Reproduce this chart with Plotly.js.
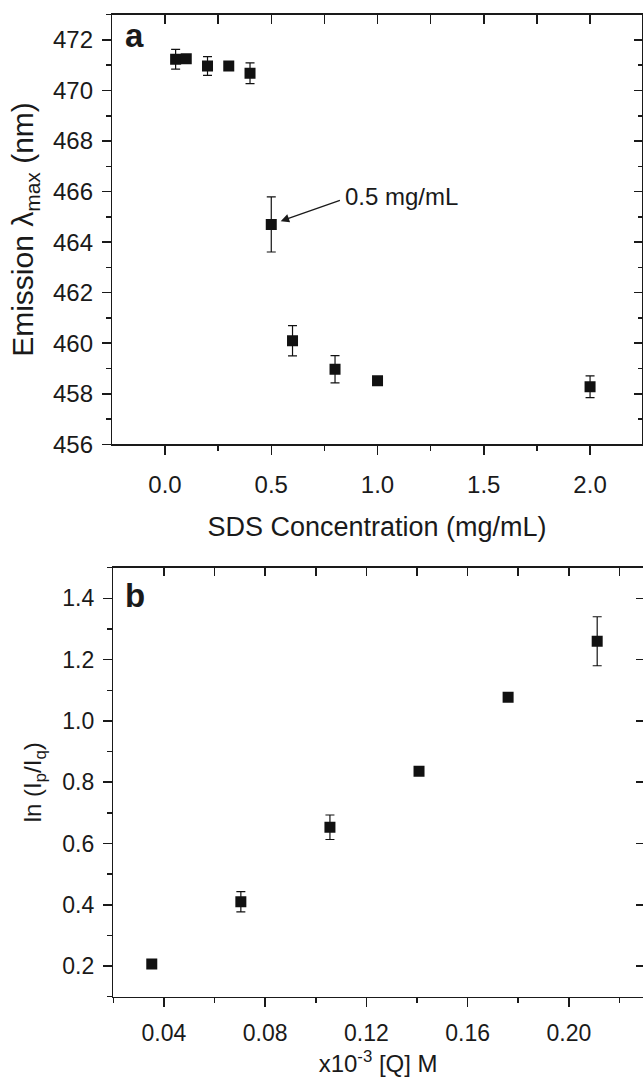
<!DOCTYPE html>
<html>
<head>
<meta charset="utf-8">
<script src="https://cdn.plot.ly/plotly-3.0.1.min.js"></script>
<style>html,body{margin:0;padding:0;background:#fff;}#chart{width:643px;height:1077px;}</style>
</head>
<body>
<div id="chart"></div>
<script>
// Panel a: emission maximum vs SDS concentration
const sdsConc = [0.05, 0.1, 0.2, 0.3, 0.4, 0.5, 0.6, 0.8, 1.0, 2.0];
const emissionMax = [471.24, 471.26, 470.97, 470.97, 470.68, 464.7, 460.1, 458.97, 458.51, 458.28];
const emissionErr = [0.39, 0, 0.37, 0, 0.41, 1.09, 0.6, 0.54, 0, 0.43];

// Panel b: ln(Ip/Iq) vs quencher concentration
const quencherConc = [0.0352, 0.0704, 0.1056, 0.1408, 0.176, 0.2112];
const lnRatio = [0.207, 0.41, 0.653, 0.836, 1.077, 1.26];
const lnRatioErr = [0, 0.033, 0.04, 0, 0, 0.08];

const W = 643, H = 1077;
const FONT = 'Liberation Sans, Arial, sans-serif';
const INK = '#1a1a1a';
const tickFontA = {family: FONT, size: 24, color: INK};
const tickFontB = {family: FONT, size: 23, color: INK};

const marker = {symbol: 'square', size: 11, color: '#111'};
const errStyle = (arr) => ({type: 'data', array: arr, visible: true, color: '#111', thickness: 1.2, width: 4.5});

const traces = [
  {x: sdsConc, y: emissionMax, error_y: errStyle(emissionErr), type: 'scatter', mode: 'markers',
   marker: marker, xaxis: 'x', yaxis: 'y', showlegend: false, hoverinfo: 'x+y'},
  {x: quencherConc, y: lnRatio, error_y: errStyle(lnRatioErr), type: 'scatter', mode: 'markers',
   marker: marker, xaxis: 'x2', yaxis: 'y2', showlegend: false, hoverinfo: 'x+y'},
  // invisible carriers so the mirrored (top/right) axes are drawn
  {x: sdsConc, y: emissionMax, type: 'scatter', mode: 'markers', marker: {opacity: 0, size: 1},
   xaxis: 'x3', yaxis: 'y3', showlegend: false, hoverinfo: 'skip'},
  {x: quencherConc, y: lnRatio, type: 'scatter', mode: 'markers', marker: {opacity: 0, size: 1},
   xaxis: 'x4', yaxis: 'y4', showlegend: false, hoverinfo: 'skip'}
];

const px = v => v / W;
const py = v => 1 - v / H;

const aX = [px(112.3), px(641.7)];
const aY = [py(444.3), py(14.7)];
const bX = [px(113.3), 1];
const bY = [py(996.7), py(567.7)];
const aRangeX = [-0.248, 2.243];
const aRangeY = [456, 473];
const bRangeX = [0.02, 0.2293];
const bRangeY = [0.1, 1.5];

const common = {showgrid: false, zeroline: false, linecolor: INK, linewidth: 1.5,
  tickcolor: INK, tickwidth: 1.5, fixedrange: true};

const layout = {
  width: W, height: H,
  margin: {l: 0, r: 0, t: 0, b: 0},
  paper_bgcolor: '#fff', plot_bgcolor: '#fff',
  showlegend: false,
  xaxis: Object.assign({}, common, {
    domain: aX, range: aRangeX, anchor: 'y', side: 'bottom', showline: true, tickfont: tickFontA,
    ticks: 'outside', ticklen: 9, tick0: 0, dtick: 0.5, tickformat: '.1f',
    minor: {ticks: 'outside', ticklen: 5, dtick: 0.25, tick0: 0, tickcolor: INK, tickwidth: 1.5},
    ticklabelstandoff: 9,
    title: {text: 'SDS Concentration (mg/mL)', font: {family: FONT, size: 27, color: INK}, standoff: 20}
  }),
  xaxis3: Object.assign({}, common, {
    domain: aX, range: aRangeX, overlaying: 'x', anchor: 'y3', side: 'top', showline: true,
    ticks: 'inside', ticklen: 9, tick0: 0, dtick: 0.25, showticklabels: false
  }),
  yaxis: Object.assign({}, common, {
    domain: aY, range: aRangeY, anchor: 'x', side: 'left', showline: true, tickfont: tickFontA,
    ticks: 'outside', ticklen: 9, tick0: 456, dtick: 2,
    minor: {ticks: 'outside', ticklen: 5, dtick: 1, tick0: 456, tickcolor: INK, tickwidth: 1.5},
    ticklabelstandoff: 4,
    title: {text: 'Emission λ<sub>max</sub> (nm)', font: {family: FONT, size: 30, color: INK}, standoff: 10}
  }),
  yaxis3: Object.assign({}, common, {
    domain: aY, range: aRangeY, overlaying: 'y', anchor: 'x3', side: 'right', showline: true,
    ticks: 'inside', ticklen: 8, tick0: 456, dtick: 2, showticklabels: false,
    minor: {ticks: 'inside', ticklen: 4, dtick: 1, tick0: 456, tickcolor: INK, tickwidth: 1.5}
  }),
  xaxis2: Object.assign({}, common, {
    domain: bX, range: bRangeX, anchor: 'y2', side: 'bottom', showline: true, tickfont: tickFontB,
    ticks: 'outside', ticklen: 9, tick0: 0, dtick: 0.04, tickformat: '.2f',
    minor: {ticks: 'outside', ticklen: 5, dtick: 0.02, tick0: 0, tickcolor: INK, tickwidth: 1.5},
    ticklabelstandoff: 6,
    title: {text: 'x10<sup>-3</sup> [Q] M', font: {family: FONT, size: 24, color: INK}, standoff: 10}
  }),
  xaxis4: Object.assign({}, common, {
    domain: bX, range: bRangeX, overlaying: 'x2', anchor: 'y4', side: 'top', showline: true,
    ticks: 'inside', ticklen: 8, tick0: 0, dtick: 0.02, showticklabels: false
  }),
  yaxis2: Object.assign({}, common, {
    domain: bY, range: bRangeY, anchor: 'x2', side: 'left', showline: true, tickfont: tickFontB,
    ticks: 'outside', ticklen: 9, tick0: 0, dtick: 0.2, tickformat: '.1f',
    minor: {ticks: 'outside', ticklen: 5, dtick: 0.1, tick0: 0, tickcolor: INK, tickwidth: 1.5},
    ticklabelstandoff: 4,
    title: {text: 'ln (I<sub>p</sub>/I<sub>q</sub>)', font: {family: FONT, size: 24, color: INK}, standoff: 14}
  }),
  yaxis4: Object.assign({}, common, {
    domain: bY, range: bRangeY, overlaying: 'y2', anchor: 'x4', side: 'right', showline: false,
    ticks: 'inside', ticklen: 7, tick0: 0, dtick: 0.2, showticklabels: false
  }),
  annotations: [
    {xref: 'paper', yref: 'paper', x: px(123), y: py(48), xanchor: 'left', yanchor: 'bottom',
     text: '<b>a</b>', showarrow: false, font: {family: FONT, size: 33, color: INK}, yshift: -8},
    {xref: 'paper', yref: 'paper', x: px(123), y: py(608), xanchor: 'left', yanchor: 'bottom',
     text: '<b>b</b>', showarrow: false, font: {family: FONT, size: 33, color: INK}, yshift: -8},
    {xref: 'x', yref: 'y', x: 0.838, y: 465.79, xanchor: 'left', yanchor: 'middle',
     text: '0.5 mg/mL', showarrow: false, font: {family: FONT, size: 24, color: INK}},
    {xref: 'x', yref: 'y', x: sdsConc[5], y: emissionMax[5], axref: 'x', ayref: 'y',
     ax: 0.83, ay: 465.67, text: '', showarrow: true, arrowhead: 2, arrowsize: 1.3,
     arrowwidth: 1.3, arrowcolor: INK, standoff: 10}
  ]
};

Plotly.newPlot('chart', traces, layout, {staticPlot: true, displayModeBar: false});
</script>
</body>
</html>
